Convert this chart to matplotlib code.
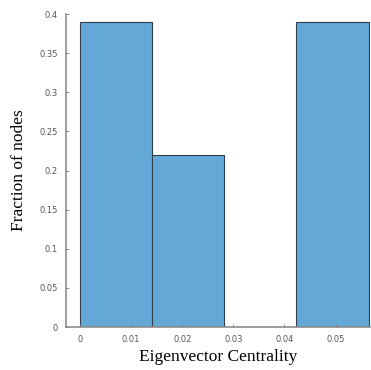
import numpy as np
import matplotlib
matplotlib.use('Agg')
import matplotlib.pyplot as plt

# histogram data
bin_edges = [0.0, 0.01412, 0.02824, 0.04236, 0.05648]
fractions = [0.39, 0.22, 0.0, 0.39]

xticks = [0, 0.01, 0.02, 0.03, 0.04, 0.05]
xtick_labels = ['0', '0.01', '0.02', '0.03', '0.04', '0.05']
yticks = [0, 0.05, 0.1, 0.15, 0.2, 0.25, 0.3, 0.35, 0.4]
ytick_labels = ['0', '0.05', '0.1', '0.15', '0.2', '0.25', '0.3', '0.35', '0.4']


fig = plt.figure(figsize=(3.71, 3.70), dpi=100)
ax = fig.add_axes([0.178, 0.116, 0.82, 0.846])

widths = np.diff(bin_edges)
ax.bar(bin_edges[:-1], fractions, width=widths, align='edge',
       color='#64a8d8', edgecolor='#2e3e4e', linewidth=0.8)

ax.set_xlim(-0.00275, 0.0568)
ax.set_ylim(0, 0.4)

ax.set_xticks(xticks)
ax.set_xticklabels(xtick_labels)
ax.set_yticks(yticks)
ax.set_yticklabels(ytick_labels)

for s in ['top', 'right']:
    ax.spines[s].set_visible(False)
for s in ['left', 'bottom']:
    ax.spines[s].set_color('#8c8c8c')
    ax.spines[s].set_linewidth(1.2)

ax.tick_params(direction='in', length=2.5, width=0.6, color='#777777',
               labelsize=6, labelcolor='#555555', pad=6)

ax.set_xlabel('Eigenvector Centrality', family='Liberation Serif', fontsize=12.5, labelpad=3)
ax.set_ylabel('Fraction of nodes', family='Liberation Serif', fontsize=12.5, labelpad=9)

fig.savefig('out.png', dpi=100)
